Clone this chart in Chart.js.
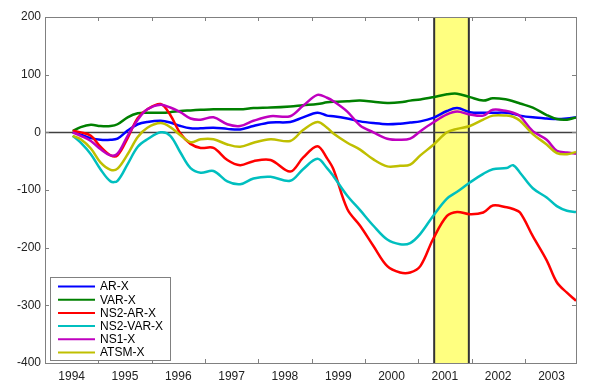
<!DOCTYPE html>
<html>
<head>
<meta charset="utf-8">
<script src="https://cdn.jsdelivr.net/npm/chart.js@4/dist/chart.umd.min.js"></script>
<style>
  html, body { margin: 0; padding: 0; background: #fff; }
  #wrap { width: 600px; height: 389px; }
</style>
</head>
<body>
<div id="wrap"><canvas id="chart"></canvas></div>
<script>
// decimal years of the sampled points
const dates = [1994.02, 1994.17, 1994.36, 1994.54, 1994.73, 1994.86, 1995.05, 1995.24, 1995.42, 1995.67,
  1995.85, 1996.04, 1996.23, 1996.42, 1996.66, 1996.92, 1997.16, 1997.41, 1997.73, 1998.10,
  1998.34, 1998.61, 1998.79, 1998.91, 1999.17, 1999.41, 1999.66, 1999.92, 2000.16, 2000.35,
  2000.54, 2000.78, 2001.04, 2001.23, 2001.47, 2001.72, 2001.90, 2002.16, 2002.28, 2002.41,
  2002.65, 2002.91, 2003.10, 2003.29, 2003.46];

const arX = [0, -4, -10, -13, -13, -11, 3, 14, 18, 20,
  17, 11, 7, 7, 8, 6, 5, 11, 17, 18,
  26, 34, 29, 28, 24, 19, 16, 14, 15, 17,
  19, 25, 37, 42, 35, 34, 34, 34, 32, 29,
  26, 24, 23, 24, 26];
const varX = [2, 9, 13, 11, 11, 14, 26, 33, 34, 34,
  35, 37, 38, 39, 40, 40, 40, 42, 43, 45,
  47, 49, 52, 53, 54, 55, 53, 51, 52, 55,
  57, 61, 66, 67, 61, 55, 59, 57, 54, 50,
  43, 30, 23, 22, 26];
const ns2ArX = [3, 0, -6, -25, -40, -40, -10, 25, 40, 49,
  30, -2, -20, -27, -27, -48, -57, -50, -48, -68,
  -44, -24, -45, -64, -133, -162, -197, -232, -243, -243,
  -232, -185, -145, -138, -142, -139, -127, -130, -133, -139,
  -180, -222, -260, -278, -292];
const ns2VarX = [-6, -18, -38, -64, -85, -84, -55, -25, -12, 0,
  -6, -35, -62, -70, -67, -85, -90, -80, -77, -84,
  -64, -46, -62, -76, -110, -135, -162, -186, -194, -192,
  -176, -145, -115, -103, -87, -72, -64, -62, -57, -70,
  -97, -113, -128, -136, -138];
const ns1X = [0, -6, -15, -29, -40, -37, -6, 22, 40, 48,
  43, 35, 24, 22, 26, 14, 11, 20, 28, 28,
  46, 65, 60, 54, 36, 12, 0, -11, -13, -11,
  2, 17, 31, 36, 31, 29, 39, 37, 34, 28,
  2, -13, -32, -35, -37];
const atsmX = [-6, -12, -28, -52, -65, -63, -38, -8, 8, 16,
  9, -5, -17, -12, -12, -21, -25, -18, -12, -15,
  4, 18, 8, -2, -18, -30, -47, -59, -58, -56,
  -40, -22, 0, 6, 11, 22, 29, 29, 27, 20,
  -3, -21, -36, -38, -34];

const seriesNames = ['AR-X', 'VAR-X', 'NS2-AR-X', 'NS2-VAR-X', 'NS1-X', 'ATSM-X'];
const seriesData = [arX, varX, ns2ArX, ns2VarX, ns1X, atsmX];
const seriesColors = ['#0000ff', '#008000', '#ff0000', '#00bfbf', '#bf00bf', '#bfbf00'];

const xTickLabels = [1994, 1995, 1996, 1997, 1998, 1999, 2000, 2001, 2002, 2003];
const yTickValues = [200, 100, 0, -100, -200, -300, -400];
const recession = [2000.80, 2001.45];

const FONT = '"Liberation Sans", Arial, sans-serif';

// box, inward ticks, shaded band, zero line and legend, MATLAB style
const framePlugin = {
  id: 'frame',
  beforeDatasetsDraw(chart) {
    const { ctx, chartArea: a, scales: { x, y } } = chart;
    const x0 = x.getPixelForValue(recession[0]);
    const x1 = x.getPixelForValue(recession[1]);
    ctx.save();
    ctx.fillStyle = '#ffff80';
    ctx.fillRect(x0, a.top, x1 - x0, a.bottom - a.top);
    ctx.strokeStyle = '#333';
    ctx.lineWidth = 2;
    ctx.beginPath();
    ctx.moveTo(x0, a.top); ctx.lineTo(x0, a.bottom);
    ctx.moveTo(x1, a.top); ctx.lineTo(x1, a.bottom);
    ctx.stroke();

    const yz = Math.round(y.getPixelForValue(0)) + 0.5;
    ctx.strokeStyle = '#404040';
    ctx.lineWidth = 1.5;
    ctx.beginPath();
    ctx.moveTo(a.left, yz); ctx.lineTo(a.right, yz);
    ctx.stroke();
    ctx.restore();
  },
  afterDraw(chart) {
    const { ctx, chartArea: a, scales: { x, y } } = chart;
    ctx.save();
    ctx.strokeStyle = '#808080';
    ctx.lineWidth = 1;
    ctx.strokeRect(Math.round(a.left) + 0.5, Math.round(a.top) + 0.5,
      Math.round(a.right - a.left), Math.round(a.bottom - a.top));

    const tl = 4;
    ctx.beginPath();
    xTickLabels.forEach(v => {
      const px = Math.round(x.getPixelForValue(v + 0.5)) + 0.5;
      if (px >= a.right - 1) return;
      ctx.moveTo(px, a.top); ctx.lineTo(px, a.top + tl);
      ctx.moveTo(px, a.bottom); ctx.lineTo(px, a.bottom - tl);
    });
    yTickValues.forEach(v => {
      const py = Math.round(y.getPixelForValue(v)) + 0.5;
      ctx.moveTo(a.left, py); ctx.lineTo(a.left + tl, py);
      ctx.moveTo(a.right, py); ctx.lineTo(a.right - tl, py);
    });
    ctx.stroke();

    // legend
    const lx = a.left + 5, lw = 120, lh = 83;
    const ly = a.bottom - 3 - lh;
    ctx.fillStyle = '#fff';
    ctx.fillRect(lx, ly, lw, lh);
    ctx.strokeStyle = '#808080';
    ctx.strokeRect(Math.round(lx) + 0.5, Math.round(ly) + 0.5, lw, lh);
    ctx.font = '12px ' + FONT;
    ctx.textBaseline = 'middle';
    seriesNames.forEach((name, i) => {
      const ry = ly + 9.5 + i * 13.2;
      ctx.strokeStyle = seriesColors[i];
      ctx.lineWidth = 2;
      ctx.beginPath();
      ctx.moveTo(lx + 8, ry); ctx.lineTo(lx + 45, ry);
      ctx.stroke();
      ctx.fillStyle = '#000';
      ctx.fillText(name, lx + 50, ry + 0.5);
    });
    ctx.restore();
  }
};

new Chart(document.getElementById('chart'), {
  type: 'line',
  data: {
    datasets: seriesNames.map((name, i) => ({
      label: name,
      data: dates.map((d, k) => ({ x: d, y: seriesData[i][k] })),
      borderColor: seriesColors[i],
      borderWidth: 2.5,
      pointRadius: 0,
      tension: 0.35,
      fill: false,
      order: -i,
    })),
  },
  options: {
    responsive: true,
    maintainAspectRatio: false,
    animation: false,
    layout: { padding: { top: 17, right: 24, left: 0, bottom: 0 } },
    plugins: { legend: { display: false }, tooltip: { enabled: false } },
    scales: {
      x: {
        type: 'linear',
        min: 1993.5,
        max: 2003.46,
        grid: { display: false, drawTicks: false, tickLength: 0 },
        border: { display: false },
        afterBuildTicks: (s) => { s.ticks = xTickLabels.map(v => ({ value: v })); },
        afterFit: (s) => { s.height = 26; },
        ticks: {
          color: '#222',
          padding: 6,
          maxRotation: 0,
          autoSkip: false,
          font: { family: FONT, size: 12 },
          callback: (v) => String(v),
        },
      },
      y: {
        min: -400,
        max: 200,
        grid: { display: false, drawTicks: false, tickLength: 0 },
        border: { display: false },
        afterBuildTicks: (s) => { s.ticks = yTickValues.map(v => ({ value: v })); },
        afterFit: (s) => { s.width = 45; },
        ticks: {
          color: '#222',
          padding: 4,
          font: { family: FONT, size: 12 },
          callback: (v) => String(v),
        },
      },
    },
  },
  plugins: [framePlugin],
});
</script>
</body>
</html>
